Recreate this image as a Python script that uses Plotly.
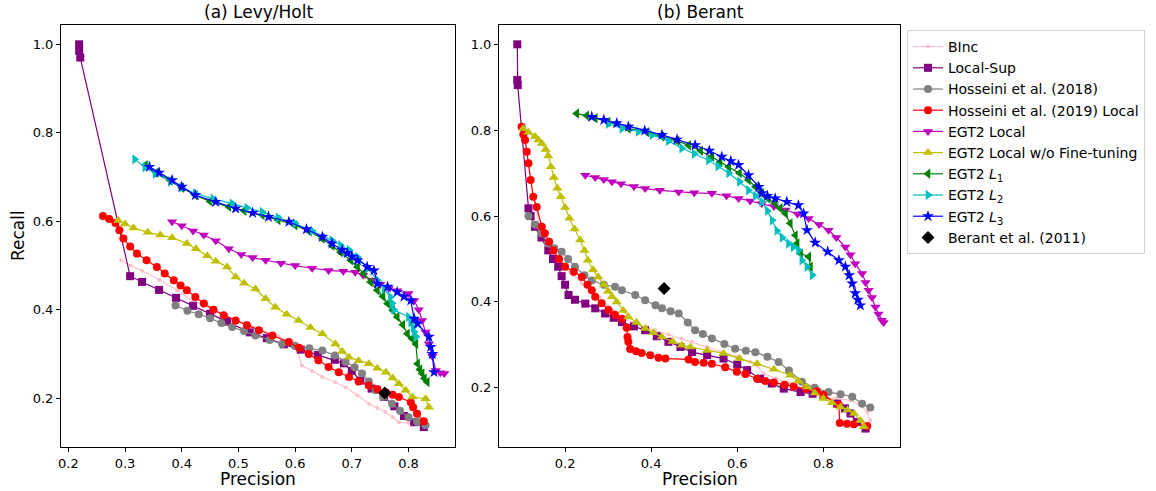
import plotly.graph_objects as go

# ---------------- (a) Levy/Holt ----------------
binc_a_x = [0.293, 0.31, 0.33, 0.36, 0.392, 0.42, 0.45, 0.48, 0.51, 0.54, 0.57, 0.60, 0.605, 0.612, 0.63, 0.648, 0.67, 0.689, 0.71, 0.73, 0.745, 0.759, 0.772, 0.783, 0.80, 0.818]
binc_a_y = [0.512, 0.50, 0.488, 0.468, 0.444, 0.42, 0.405, 0.385, 0.37, 0.355, 0.34, 0.325, 0.305, 0.274, 0.262, 0.248, 0.237, 0.225, 0.207, 0.188, 0.178, 0.169, 0.158, 0.146, 0.144, 0.142]

localsup_a_x = [0.219, 0.219, 0.221, 0.309, 0.33, 0.36, 0.39, 0.42, 0.45, 0.48, 0.52, 0.55, 0.58, 0.61, 0.64, 0.67, 0.686, 0.70, 0.715, 0.735, 0.757, 0.775, 0.792, 0.81, 0.827]
localsup_a_y = [1.0, 0.985, 0.97, 0.476, 0.463, 0.445, 0.427, 0.409, 0.391, 0.373, 0.349, 0.336, 0.322, 0.31, 0.298, 0.287, 0.279, 0.262, 0.24, 0.222, 0.203, 0.182, 0.16, 0.146, 0.135]

h18_a_x = [0.389, 0.41, 0.43, 0.45, 0.47, 0.489, 0.51, 0.53, 0.555, 0.577, 0.60, 0.625, 0.648, 0.67, 0.689, 0.705, 0.718, 0.73, 0.742, 0.755, 0.771, 0.785, 0.80, 0.815, 0.83]
h18_a_y = [0.41, 0.398, 0.39, 0.381, 0.37, 0.361, 0.352, 0.342, 0.332, 0.323, 0.318, 0.313, 0.308, 0.297, 0.282, 0.27, 0.256, 0.238, 0.218, 0.203, 0.188, 0.172, 0.157, 0.147, 0.139]

h19_a_x = [0.261, 0.272, 0.283, 0.29, 0.297, 0.309, 0.321, 0.338, 0.356, 0.37, 0.386, 0.398, 0.409, 0.424, 0.439, 0.456, 0.474, 0.495, 0.515, 0.536, 0.56, 0.589, 0.607, 0.624, 0.641, 0.659, 0.677, 0.695, 0.712, 0.73, 0.745, 0.76, 0.772, 0.783, 0.804, 0.808, 0.815, 0.827]
h19_a_y = [0.612, 0.605, 0.596, 0.58, 0.561, 0.543, 0.527, 0.512, 0.497, 0.482, 0.467, 0.455, 0.444, 0.429, 0.414, 0.4, 0.388, 0.376, 0.365, 0.354, 0.342, 0.327, 0.314, 0.30, 0.286, 0.271, 0.259, 0.248, 0.238, 0.229, 0.221, 0.214, 0.208, 0.203, 0.191, 0.18, 0.165, 0.148]

egtl_a_x = [0.383, 0.40, 0.42, 0.439, 0.46, 0.483, 0.505, 0.525, 0.548, 0.575, 0.60, 0.63, 0.659, 0.685, 0.706, 0.72, 0.736, 0.75, 0.765, 0.78, 0.80, 0.81, 0.818, 0.824, 0.83, 0.836, 0.842, 0.848, 0.856, 0.863]
egtl_a_y = [0.599, 0.59, 0.578, 0.569, 0.556, 0.538, 0.525, 0.518, 0.512, 0.505, 0.50, 0.494, 0.489, 0.487, 0.485, 0.478, 0.467, 0.458, 0.448, 0.443, 0.437, 0.421, 0.40, 0.376, 0.35, 0.323, 0.295, 0.263, 0.258, 0.256]

nofr_a_x = [0.288, 0.30, 0.315, 0.34, 0.362, 0.383, 0.409, 0.425, 0.445, 0.46, 0.48, 0.495, 0.51, 0.53, 0.548, 0.565, 0.585, 0.606, 0.627, 0.648, 0.671, 0.683, 0.695, 0.712, 0.73, 0.745, 0.76, 0.772, 0.783, 0.795, 0.807, 0.83, 0.836]
nofr_a_y = [0.602, 0.594, 0.585, 0.575, 0.569, 0.563, 0.55, 0.538, 0.522, 0.51, 0.497, 0.474, 0.46, 0.447, 0.425, 0.406, 0.39, 0.376, 0.36, 0.346, 0.323, 0.306, 0.293, 0.285, 0.278, 0.268, 0.259, 0.246, 0.233, 0.218, 0.203, 0.199, 0.18]

l1_a_x = [0.336, 0.355, 0.38, 0.40, 0.424, 0.45, 0.483, 0.51, 0.542, 0.57, 0.60, 0.625, 0.648, 0.665, 0.68, 0.698, 0.71, 0.721, 0.733, 0.745, 0.755, 0.763, 0.772, 0.78, 0.79, 0.798, 0.806, 0.813, 0.816, 0.82, 0.824, 0.828, 0.833]
l1_a_y = [0.727, 0.71, 0.692, 0.676, 0.659, 0.645, 0.633, 0.624, 0.614, 0.603, 0.591, 0.577, 0.561, 0.545, 0.53, 0.512, 0.497, 0.482, 0.463, 0.444, 0.43, 0.414, 0.399, 0.384, 0.366, 0.346, 0.335, 0.323, 0.278, 0.265, 0.256, 0.245, 0.237]

l2_a_x = [0.317, 0.335, 0.353, 0.38, 0.40, 0.424, 0.455, 0.489, 0.515, 0.542, 0.57, 0.60, 0.63, 0.665, 0.68, 0.695, 0.71, 0.728, 0.745, 0.757, 0.768, 0.771, 0.774, 0.80, 0.804, 0.808, 0.81, 0.813]
l2_a_y = [0.74, 0.722, 0.708, 0.69, 0.677, 0.663, 0.651, 0.64, 0.63, 0.621, 0.608, 0.595, 0.578, 0.557, 0.546, 0.535, 0.519, 0.494, 0.467, 0.447, 0.429, 0.415, 0.40, 0.384, 0.372, 0.361, 0.35, 0.339]

l3_a_x = [0.343, 0.36, 0.383, 0.40, 0.424, 0.46, 0.495, 0.525, 0.553, 0.589, 0.62, 0.648, 0.665, 0.683, 0.692, 0.70, 0.71, 0.727, 0.739, 0.745, 0.763, 0.78, 0.792, 0.804, 0.81, 0.816, 0.836, 0.839, 0.842, 0.845]
l3_a_y = [0.723, 0.71, 0.693, 0.678, 0.659, 0.644, 0.629, 0.619, 0.61, 0.599, 0.582, 0.565, 0.55, 0.535, 0.528, 0.52, 0.512, 0.497, 0.489, 0.459, 0.452, 0.44, 0.43, 0.421, 0.38, 0.369, 0.339, 0.316, 0.30, 0.259]

berant_a_x = [0.758]
berant_a_y = [0.212]

# ---------------- (b) Berant ----------------
binc_b_x = [0.108, 0.115, 0.125, 0.14, 0.16, 0.18, 0.2, 0.22, 0.239, 0.26, 0.28, 0.30, 0.33, 0.36, 0.385, 0.409, 0.44, 0.47, 0.495, 0.53, 0.568, 0.60, 0.63, 0.646, 0.661, 0.69, 0.723, 0.76, 0.80, 0.83, 0.863, 0.885, 0.902, 0.909]
binc_b_y = [0.78, 0.72, 0.65, 0.58, 0.53, 0.5, 0.478, 0.462, 0.443, 0.425, 0.41, 0.39, 0.365, 0.35, 0.34, 0.334, 0.324, 0.315, 0.307, 0.295, 0.283, 0.272, 0.26, 0.252, 0.233, 0.222, 0.21, 0.195, 0.178, 0.175, 0.171, 0.16, 0.144, 0.124]

localsup_b_x = [0.089, 0.089, 0.09, 0.115, 0.12, 0.13, 0.145, 0.161, 0.172, 0.184, 0.192, 0.20, 0.208, 0.223, 0.247, 0.27, 0.293, 0.313, 0.332, 0.36, 0.386, 0.413, 0.44, 0.468, 0.495, 0.53, 0.568, 0.6, 0.623, 0.653, 0.68, 0.708, 0.747, 0.775, 0.80, 0.832, 0.85, 0.863, 0.878, 0.898]
localsup_b_y = [1.0, 0.917, 0.905, 0.618, 0.6, 0.575, 0.55, 0.52, 0.5, 0.482, 0.46, 0.44, 0.416, 0.405, 0.396, 0.385, 0.373, 0.363, 0.353, 0.343, 0.334, 0.32, 0.307, 0.295, 0.283, 0.276, 0.268, 0.254, 0.241, 0.221, 0.21, 0.198, 0.19, 0.186, 0.182, 0.163, 0.152, 0.14, 0.12, 0.105]

h18_b_x = [0.115, 0.13, 0.145, 0.161, 0.175, 0.192, 0.207, 0.223, 0.245, 0.262, 0.29, 0.316, 0.332, 0.363, 0.386, 0.41, 0.425, 0.445, 0.464, 0.485, 0.502, 0.52, 0.541, 0.57, 0.595, 0.62, 0.642, 0.67, 0.696, 0.72, 0.75, 0.78, 0.812, 0.84, 0.867, 0.89, 0.909]
h18_b_y = [0.6, 0.58, 0.56, 0.536, 0.525, 0.517, 0.5, 0.482, 0.462, 0.45, 0.44, 0.435, 0.427, 0.416, 0.404, 0.392, 0.385, 0.378, 0.373, 0.352, 0.334, 0.325, 0.315, 0.302, 0.291, 0.286, 0.283, 0.272, 0.26, 0.24, 0.214, 0.2, 0.19, 0.185, 0.179, 0.163, 0.154]

h19_b_x = [0.099, 0.103, 0.107, 0.111, 0.115, 0.12, 0.126, 0.134, 0.146, 0.153, 0.163, 0.173, 0.186, 0.20, 0.22, 0.239, 0.252, 0.262, 0.27, 0.285, 0.301, 0.316, 0.332, 0.343, 0.345, 0.347, 0.351, 0.365, 0.378, 0.398, 0.417, 0.433, 0.487, 0.502, 0.522, 0.541, 0.572, 0.599, 0.619, 0.646, 0.665, 0.685, 0.71, 0.731, 0.76, 0.785, 0.80, 0.836, 0.838, 0.855, 0.871, 0.902]
h19_b_y = [0.808, 0.79, 0.777, 0.75, 0.723, 0.684, 0.645, 0.621, 0.575, 0.56, 0.54, 0.52, 0.5, 0.482, 0.47, 0.458, 0.44, 0.427, 0.412, 0.397, 0.381, 0.37, 0.361, 0.34, 0.318, 0.307, 0.29, 0.285, 0.281, 0.276, 0.27, 0.268, 0.266, 0.26, 0.258, 0.256, 0.248, 0.237, 0.232, 0.221, 0.216, 0.212, 0.207, 0.203, 0.197, 0.192, 0.183, 0.16, 0.118, 0.116, 0.115, 0.111]

egtl_b_x = [0.247, 0.27, 0.29, 0.309, 0.33, 0.36, 0.386, 0.42, 0.464, 0.5, 0.541, 0.575, 0.603, 0.63, 0.657, 0.685, 0.712, 0.74, 0.766, 0.79, 0.812, 0.83, 0.851, 0.863, 0.874, 0.89, 0.898, 0.905, 0.913, 0.921, 0.928, 0.936, 0.94]
egtl_b_y = [0.695, 0.69, 0.685, 0.68, 0.675, 0.669, 0.664, 0.66, 0.656, 0.654, 0.653, 0.647, 0.641, 0.635, 0.629, 0.622, 0.614, 0.605, 0.594, 0.58, 0.567, 0.55, 0.528, 0.51, 0.489, 0.466, 0.445, 0.427, 0.41, 0.388, 0.372, 0.357, 0.352]

nofr_b_x = [0.103, 0.115, 0.13, 0.138, 0.146, 0.155, 0.161, 0.167, 0.174, 0.182, 0.19, 0.20, 0.21, 0.222, 0.235, 0.245, 0.253, 0.265, 0.277, 0.29, 0.30, 0.309, 0.32, 0.335, 0.347, 0.366, 0.386, 0.405, 0.425, 0.45, 0.471, 0.491, 0.53, 0.568, 0.605, 0.646, 0.685, 0.723, 0.742, 0.762, 0.78, 0.80, 0.82, 0.84, 0.856, 0.871, 0.886, 0.894]
nofr_b_y = [0.804, 0.795, 0.785, 0.777, 0.769, 0.755, 0.74, 0.715, 0.69, 0.665, 0.645, 0.62, 0.595, 0.57, 0.544, 0.52, 0.497, 0.475, 0.458, 0.44, 0.425, 0.412, 0.40, 0.38, 0.365, 0.352, 0.338, 0.328, 0.318, 0.308, 0.299, 0.295, 0.287, 0.28, 0.268, 0.256, 0.243, 0.229, 0.216, 0.202, 0.188, 0.175, 0.165, 0.155, 0.148, 0.14, 0.124, 0.109]

l1_b_x = [0.227, 0.25, 0.27, 0.3, 0.347, 0.39, 0.425, 0.46, 0.487, 0.515, 0.541, 0.56, 0.58, 0.605, 0.626, 0.642, 0.657, 0.672, 0.688, 0.70, 0.712, 0.723, 0.735, 0.739, 0.747, 0.766, 0.77]
l1_b_y = [0.839, 0.834, 0.828, 0.819, 0.804, 0.795, 0.785, 0.775, 0.765, 0.752, 0.738, 0.726, 0.715, 0.70, 0.684, 0.668, 0.653, 0.641, 0.629, 0.618, 0.606, 0.583, 0.555, 0.536, 0.513, 0.505, 0.482]

l2_b_x = [0.30, 0.332, 0.37, 0.402, 0.44, 0.471, 0.50, 0.533, 0.555, 0.58, 0.605, 0.626, 0.642, 0.657, 0.67, 0.681, 0.692, 0.704, 0.719, 0.73, 0.742, 0.75, 0.762, 0.774]
l2_b_y = [0.815, 0.804, 0.797, 0.789, 0.775, 0.758, 0.745, 0.73, 0.716, 0.70, 0.68, 0.66, 0.647, 0.633, 0.612, 0.59, 0.566, 0.55, 0.536, 0.528, 0.521, 0.497, 0.482, 0.462]

l3_b_x = [0.262, 0.29, 0.32, 0.347, 0.385, 0.425, 0.46, 0.502, 0.535, 0.564, 0.585, 0.603, 0.626, 0.65, 0.657, 0.67, 0.688, 0.715, 0.742, 0.754, 0.762, 0.781, 0.81, 0.836, 0.851, 0.86, 0.867, 0.874, 0.88, 0.886]
l3_b_y = [0.831, 0.824, 0.816, 0.808, 0.799, 0.789, 0.778, 0.765, 0.752, 0.738, 0.728, 0.719, 0.695, 0.668, 0.653, 0.647, 0.641, 0.633, 0.625, 0.606, 0.567, 0.538, 0.517, 0.497, 0.482, 0.462, 0.443, 0.42, 0.405, 0.392]

berant_b_x = [0.43]
berant_b_y = [0.431]

names = ["BInc", "Local-Sup", "Hosseini et al. (2018)", "Hosseini et al. (2019) Local",
         "EGT2 Local", "EGT2 Local w/o Fine-tuning",
         "EGT2 <i>L</i><sub>1</sub>", "EGT2 <i>L</i><sub>2</sub>", "EGT2 <i>L</i><sub>3</sub>",
         "Berant et al. (2011)"]

styles = [
    dict(color="#ffc0cb", symbol="circle", size=4),
    dict(color="#800080", symbol="square", size=8),
    dict(color="#808080", symbol="circle", size=8),
    dict(color="#ff0000", symbol="circle", size=8),
    dict(color="#bf00bf", symbol="triangle-down", size=9),
    dict(color="#bfbf00", symbol="triangle-up", size=9),
    dict(color="#008000", symbol="triangle-left", size=9),
    dict(color="#00bfbf", symbol="triangle-right", size=9),
    dict(color="#0000ff", symbol="star", size=9),
    dict(color="#000000", symbol="diamond", size=10),
]

series_a = [(binc_a_x, binc_a_y), (localsup_a_x, localsup_a_y), (h18_a_x, h18_a_y), (h19_a_x, h19_a_y),
            (egtl_a_x, egtl_a_y), (nofr_a_x, nofr_a_y), (l1_a_x, l1_a_y), (l2_a_x, l2_a_y),
            (l3_a_x, l3_a_y), (berant_a_x, berant_a_y)]
series_b = [(binc_b_x, binc_b_y), (localsup_b_x, localsup_b_y), (h18_b_x, h18_b_y), (h19_b_x, h19_b_y),
            (egtl_b_x, egtl_b_y), (nofr_b_x, nofr_b_y), (l1_b_x, l1_b_y), (l2_b_x, l2_b_y),
            (l3_b_x, l3_b_y), (berant_b_x, berant_b_y)]

fig = go.Figure()
for panel, series in enumerate([series_a, series_b]):
    xa = "x" if panel == 0 else "x2"
    ya = "y" if panel == 0 else "y2"
    for i, (sx, sy) in enumerate(series):
        st = styles[i]
        is_pt = i == 9
        fig.add_trace(go.Scatter(
            x=sx, y=sy, xaxis=xa, yaxis=ya, name=names[i],
            mode="markers" if is_pt else "lines+markers",
            line=dict(color=st["color"], width=1.2),
            marker=dict(color=st["color"], symbol=st["symbol"], size=st["size"], line=dict(width=0)),
            showlegend=(panel == 0),
        ))

W, H = 1156, 491
def fx(p): return p / W
def fy(p): return 1 - p / H

axis_common = dict(showgrid=False, zeroline=False, showline=True, linecolor="black", linewidth=1,
                   mirror=True, ticks="outside", ticklen=4, tickcolor="black",
                   tickfont=dict(family="DejaVu Sans", size=13, color="black"), automargin=False)

fig.update_layout(
    width=W, height=H, margin=dict(l=0, r=0, t=0, b=0),
    paper_bgcolor="white", plot_bgcolor="white",
    xaxis=dict(domain=[fx(61), fx(455)], range=[0.187, 0.882], tickvals=[0.2, 0.3, 0.4, 0.5, 0.6, 0.7, 0.8],
               tickformat=".1f", anchor="y", **axis_common),
    yaxis=dict(domain=[fy(447), fy(25)], range=[0.09, 1.0436], tickvals=[0.2, 0.4, 0.6, 0.8, 1.0],
               tickformat=".1f", anchor="x", **axis_common),
    xaxis2=dict(domain=[fx(499), fx(900)], range=[0.0465, 0.978], tickvals=[0.2, 0.4, 0.6, 0.8],
                tickformat=".1f", anchor="y2", **axis_common),
    yaxis2=dict(domain=[fy(447), fy(25)], range=[0.062, 1.045], tickvals=[0.2, 0.4, 0.6, 0.8, 1.0],
                tickformat=".1f", anchor="x2", **axis_common),
    legend=dict(x=fx(907), y=fy(30), xanchor="left", yanchor="top",
                font=dict(family="DejaVu Sans", size=14, color="black"),
                bordercolor="#d0d0d0", borderwidth=1, bgcolor="white", tracegroupgap=0),
    annotations=[
        dict(text="(a) Levy/Holt", x=fx(258), y=fy(12), xref="paper", yref="paper", showarrow=False,
             font=dict(family="DejaVu Sans", size=17, color="black"), xanchor="center", yanchor="middle"),
        dict(text="(b) Berant", x=fx(700), y=fy(12), xref="paper", yref="paper", showarrow=False,
             font=dict(family="DejaVu Sans", size=17, color="black"), xanchor="center", yanchor="middle"),
        dict(text="Precision", x=fx(258), y=fy(479), xref="paper", yref="paper", showarrow=False,
             font=dict(family="DejaVu Sans", size=17, color="black"), xanchor="center", yanchor="middle"),
        dict(text="Precision", x=fx(700), y=fy(479), xref="paper", yref="paper", showarrow=False,
             font=dict(family="DejaVu Sans", size=17, color="black"), xanchor="center", yanchor="middle"),
        dict(text="Recall", x=fx(18), y=fy(236), xref="paper", yref="paper", showarrow=False, textangle=-90,
             font=dict(family="DejaVu Sans", size=17, color="black"), xanchor="center", yanchor="middle"),
    ],
)

# remove the default page margin so the figure fills the window exactly
fig.write_html("out.html", config={"displayModeBar": False},
               post_script="document.body.style.margin='0';")
